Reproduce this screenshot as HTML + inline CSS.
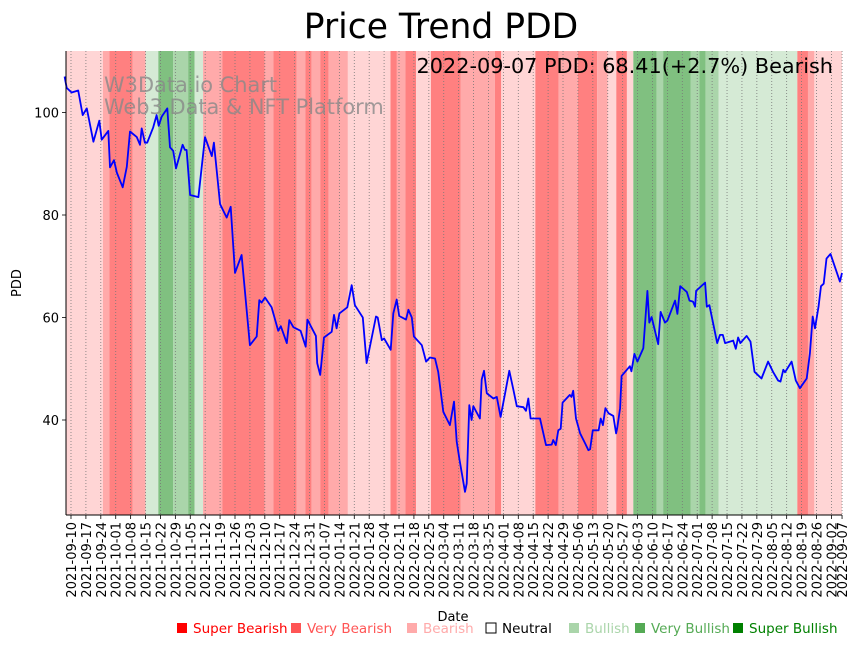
<!DOCTYPE html>
<html><head><meta charset="utf-8"><style>
body{margin:0;background:#fff;font-family:"Liberation Sans","DejaVu Sans",sans-serif;}
svg text{font-family:"DejaVu Sans","Liberation Sans",sans-serif;}
</style></head><body>
<svg id="chart" width="859" height="646" xmlns="http://www.w3.org/2000/svg">
<text x="441" y="38" font-size="34.5" text-anchor="middle">Price Trend PDD</text>
<g id="bands"></g>
<g id="grid"></g>
<text x="104" y="92" font-size="20.9" fill="#888" fill-opacity="0.8">W3Data.io Chart</text>
<text x="104" y="114" font-size="20.9" fill="#888" fill-opacity="0.8">Web3 Data &amp; NFT Platform</text>
<g id="line"></g>
<text x="833" y="73" font-size="20.8" text-anchor="end">2022-09-07 PDD: 68.41(+2.7%) Bearish</text>
<g id="axes"></g>
<text transform="translate(21,283) rotate(-90)" font-size="13" text-anchor="middle">PDD</text>
<text x="453" y="621" font-size="13" text-anchor="middle">Date</text>
<g id="legend"></g>
</svg>
<script>
const yTicks=[40,60,80,100];
const xTickLabels=["2021-09-10","2021-09-17","2021-09-24","2021-10-01","2021-10-08","2021-10-15","2021-10-22","2021-10-29","2021-11-05","2021-11-12","2021-11-19","2021-11-26","2021-12-03","2021-12-10","2021-12-17","2021-12-24","2021-12-31","2022-01-07","2022-01-14","2022-01-21","2022-01-28","2022-02-04","2022-02-11","2022-02-18","2022-02-25","2022-03-04","2022-03-11","2022-03-18","2022-03-25","2022-04-01","2022-04-08","2022-04-15","2022-04-22","2022-04-29","2022-05-06","2022-05-13","2022-05-20","2022-05-27","2022-06-03","2022-06-10","2022-06-17","2022-06-24","2022-07-01","2022-07-08","2022-07-15","2022-07-22","2022-07-29","2022-08-05","2022-08-12","2022-08-19","2022-08-26","2022-09-02","2022-09-07"];
// regime bands: start day offset from 2021-09-07, and level (-3..3)
const bandStart=[0,18,21,32,38,44,51,58,61,65,74,94,98,109,113,116,120,124,133,153,156,160,165,172,186,202,205,221,232,241,250,255,259,264,267,278,281,294,298,301,307,344,349,352];
const bandLevel=[-1,-2,-3,-2,1,3,2,3,1,-2,-3,-2,-3,-2,-3,-2,-3,-2,-1,-3,-2,-3,-1,-3,-2,-3,-1,-3,-2,-3,-2,-1,-3,-1,3,2,3,2,3,2,1,-3,-2,-1];
const totalDays=365;
// price series: day offset and close
const priceDays=[0,1,3.3,6.4,8.5,10.4,13.5,16.3,17.4,20.5,21.3,23.2,24.5,27.3,29.2,30.7,33.9,35.4,36.2,37.7,38.8,41.6,43.2,44.2,45.6,48.2,49.5,51,52.3,55.4,56.5,57.3,58.9,62.8,65.9,69.1,70.1,73,76.1,78,80,83.1,87,90.2,91.4,92.5,94.1,97.2,100.3,101.5,104.3,105.5,107.4,110.8,113.2,114,118,118.6,120,121.8,125.4,126.5,127.7,129,132.7,134.8,136.3,140,141.8,146.2,147,148.9,150,153.1,154.3,155.9,157.1,160.3,161.4,163,164,167.7,169.7,171.5,173.9,175.4,177.8,180.9,182.8,184.1,185.3,188,188.8,190,191.1,191.9,195,195.8,196.9,198.2,201.3,202.9,204.7,206.8,208.8,210.7,212.3,215.4,216.6,217.7,218.8,223.2,226,228.7,229.4,230.6,231.8,232.9,233.8,237.2,238,238.8,240.1,242,244.3,245.9,246.7,248,250.7,251.7,252.7,253.9,255.4,257.6,258.9,259.4,260.8,261.5,265.4,266.1,267.5,268.9,271.7,273.6,274.5,275.6,278.7,279.8,281.9,283,286.6,287.7,289,292.1,293.4,295,296,296.5,300.7,301.5,302.7,306.4,307.7,309,310.1,313.9,315.1,316.2,317.3,320.2,322,323.9,327.2,330.3,332.6,335,336.1,337.4,338.2,341.3,343.3,345.2,348.4,349.9,351.2,352.3,354,355.1,356.4,357.7,359.6,364,365];
const priceValues=[107,104.8,103.9,104.3,99.5,100.8,94.3,98.4,94.7,96.4,89.3,90.7,88.3,85.4,89.4,96.3,95.2,93.7,96.9,94.1,94.1,97.1,99.5,97.4,99.2,100.8,93.2,92.5,89.1,93.7,92.7,92.7,83.9,83.5,95.2,91.5,94.1,82.1,79.5,81.6,68.7,72.2,54.6,56.3,63.4,62.9,63.9,62,57.4,58.3,55,59.5,58.1,57.4,54.3,59.6,56.4,51.1,48.8,56.1,57.2,60.5,57.9,60.8,62,66.3,62.4,60,51.1,60.2,60,55.6,55.9,53.7,60.8,63.5,60.3,59.6,61.5,60,56.3,54.6,51.4,52.2,52,49.4,41.6,39,43.6,35.8,32.5,26,27.6,42.9,40,42.7,40.3,47.9,49.6,45.2,44.2,44.5,40.6,45.2,49.6,45.9,42.7,42.5,41.8,44.2,40.3,40.3,35.1,35.2,36.1,35.1,38,38.3,43.4,44.9,44.5,45.7,40.3,37.4,35.5,34.1,34.3,38,38,40.3,39,42.3,41.3,40.8,37.4,38.3,42.3,48.6,50.5,49.5,52.9,51.4,54,65.2,59,60.1,54.8,61.1,59,59.4,63.3,60.7,66.1,65,63.3,63.1,62.1,65.2,66.8,62.1,62.4,55,56.6,56.6,55,55.5,53.9,56.1,55,56.4,55.3,49.4,48.1,51.4,49.4,47.7,47.5,49.8,49.3,51.4,47.7,46.2,48.1,53,60.2,57.9,62.2,66.1,66.6,71.5,72.4,67,68.7];
const legendLabels=["Super Bearish","Very Bearish","Bearish","Neutral","Bullish","Very Bullish","Super Bullish"];
const legendColors=["#ff0000","#ff5555","#ffaaaa","#ffffff","#aad5aa","#55aa55","#008000"];
const legendTextColors=["#ff0000","#ff5555","#ffaaaa","#000000","#aad5aa","#55aa55","#008000"];

const NS="http://www.w3.org/2000/svg";
const X0=64.6, PX=2.13, L=66, R=842, T=51, B=515;
const xs=d=>X0+PX*d;
const ys=v=>420-(v-40)*5.125;
const day0=Date.UTC(2021,8,7);
const dayOf=s=>{const p=s.split('-');return (Date.UTC(+p[0],p[1]-1,+p[2])-day0)/86400000;};
const colorOf=l=>({"-3":"#ff8080","-2":"#ffaaaa","-1":"#ffd5d5","0":"#ffffff","1":"#d5ead5","2":"#aad5aa","3":"#80c080"})[l];
function mk(tag,attrs,parent){const e=document.createElementNS(NS,tag);for(const k in attrs)e.setAttribute(k,attrs[k]);parent.appendChild(e);return e;}

const gb=document.getElementById('bands');
bandStart.forEach((s,i)=>{
  const e=i+1<bandStart.length?bandStart[i+1]:totalDays;
  const x1=Math.max(L,xs(s)), x2=Math.min(R,xs(e));
  const r=mk('rect',{x:x1,y:T,width:Math.max(0,x2-x1),height:B-T,fill:colorOf(bandLevel[i])},gb);
  
  
});

const gg=document.getElementById('grid');
const ga=document.getElementById('axes');
xTickLabels.forEach(lbl=>{
  const x=xs(dayOf(lbl));
  const g=mk('line',{x1:x,x2:x,y1:T,y2:B,stroke:'#777','stroke-width':0.8,'stroke-dasharray':'1,2'},gg);
  
  
  const t=mk('line',{x1:x,x2:x,y1:B,y2:B+4,stroke:'#000','stroke-width':0.8},ga);
  
  
  const tx=mk('text',{transform:`translate(${x+5},${B+7}) rotate(-90)`,'font-size':13,'text-anchor':'end'},ga);
  tx.textContent=lbl;
  
  
});
yTicks.forEach(v=>{
  const y=ys(v);
  const t=mk('line',{x1:L-4,x2:L,y1:y,y2:y,stroke:'#000','stroke-width':0.8},ga);
  
  
  const tx=mk('text',{x:L-7,y:y+5,'font-size':13,'text-anchor':'end'},ga);
  tx.textContent=v;
  
  
});
const sp1=mk('line',{x1:L,x2:L,y1:T,y2:B,stroke:'#000','stroke-width':1},ga);


const sp2=mk('line',{x1:L,x2:R,y1:B,y2:B,stroke:'#000','stroke-width':1},ga);



const gl=document.getElementById('line');
const pts=priceDays.map((d,i)=>xs(d).toFixed(1)+','+ys(priceValues[i]).toFixed(1)).join(' ');
const pl=mk('polyline',{points:pts,fill:'none',stroke:'#0000ff','stroke-width':1.8,'stroke-linejoin':'round'},gl);



const glg=document.getElementById('legend');
const legX=[177,291,407,486,569,635,733];
legendLabels.forEach((lbl,i)=>{
  const g=mk('g',{},glg);
  
  
  mk('rect',{x:legX[i],y:623,width:10,height:10,fill:legendColors[i],stroke:i===3?'#000':'none','stroke-width':1},g);
  const t=mk('text',{x:legX[i]+16,y:633,'font-size':13.5,fill:legendTextColors[i]},g);
  t.textContent=lbl;
});
</script>
</body></html>
